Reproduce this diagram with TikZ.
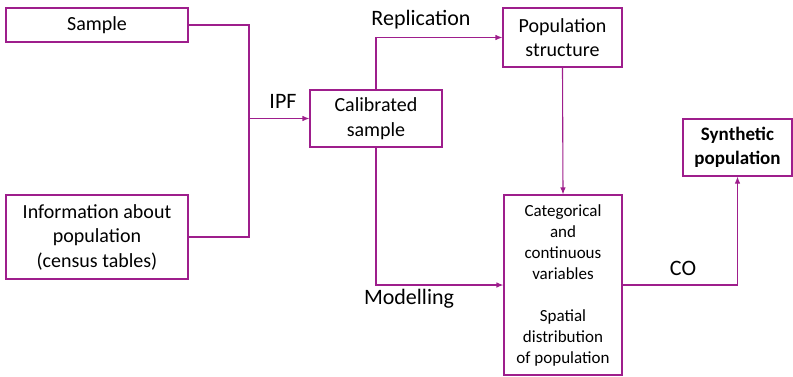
\documentclass[tikz,border=0pt]{standalone}
\usepackage{fontspec}
\setmainfont{Carlito}
\usetikzlibrary{arrows.meta, positioning, calc}

\definecolor{flowpurple}{RGB}{158,30,140}

\begin{document}
\begin{tikzpicture}[
    x=1pt, y=-1pt,
    >={Latex[length=7pt, width=5.5pt]}, % small filled heads
    line width=1.1pt,
    stepbox/.style={draw=flowpurple, rectangle, align=center, inner sep=2pt, font=\fontsize{20}{24.5}\selectfont},
    smallbox/.style={stepbox, font=\fontsize{17}{21}\selectfont},
    flow/.style={draw=flowpurple},
    flow label/.style={font=\fontsize{22}{24}\selectfont}
]
    \useasboundingbox (0,0) rectangle (793,376);

    % === Input boxes ===
    \node[stepbox, minimum width=182pt, minimum height=34pt] (sample) at (97,25) {Sample};
    \node[stepbox, minimum width=182pt, minimum height=84pt] (info) at (97,237)
        {Information about\\population\\(census tables)};

    % === Middle and right boxes ===
    \node[stepbox, minimum width=132pt, minimum height=57pt] (calib) at (376,118.5) {Calibrated\\sample};
    \node[stepbox, minimum width=119pt, minimum height=59pt] (popstruct) at (562.5,37.5) {Population\\structure};
    \node[smallbox, minimum width=118pt, minimum height=180pt] (vars) at (563,285)
        {Categorical\\and\\continuous\\variables\\[21pt]Spatial\\distribution\\of population};
    \node[stepbox, minimum width=109pt, minimum height=57pt, font=\fontsize{19}{24}\selectfont\bfseries] (synth) at (737.5,147.5)
        {Synthetic\\population};

    % === IPF join ===
    \coordinate (join) at (249,118.5);
    \draw[flow] (sample.east) -| (join);
    \draw[flow] (info.east) -| (join);
    \draw[flow, ->] (join) -- (calib.west);
    \node[flow label] (ipf) at (283,101) {IPF};

    % === Replication and modelling ===
    \draw[flow, ->] (calib.north) |- (popstruct.west);
    \node[flow label] (repl) at (421,20) {Replication};
    \draw[flow, ->] (calib.south) |- (vars.west);
    \node[flow label] (model) at (409,299) {Modelling};
    \draw[flow, ->] (popstruct.south) -- (vars.north);

    % === Combinatorial optimisation ===
    \draw[flow, ->] (vars.east) -| (synth.south);
    \node[flow label] (co) at (683,268) {CO};

\end{tikzpicture}
\end{document}
